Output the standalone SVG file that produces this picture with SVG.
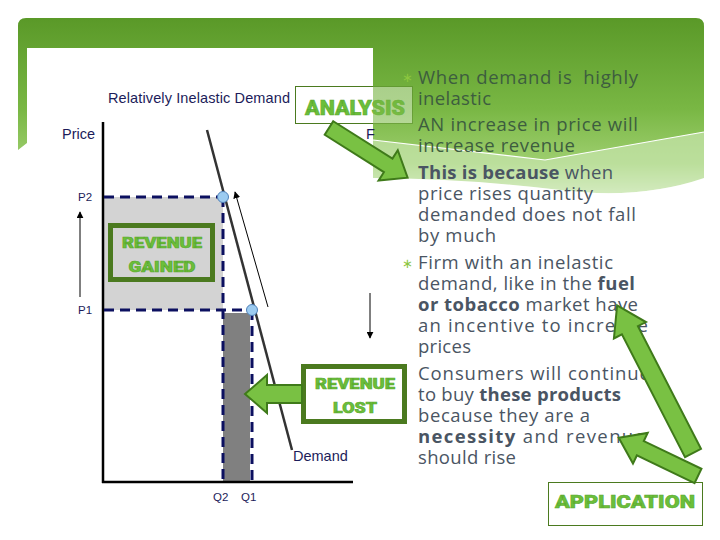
<svg xmlns="http://www.w3.org/2000/svg" width="720" height="540" viewBox="0 0 720 540">
<defs>
<linearGradient id="gr" gradientUnits="userSpaceOnUse" x1="0" y1="18" x2="0" y2="200">
<stop offset="0" stop-color="#5a9928"/>
<stop offset="0.5" stop-color="#79b744"/>
<stop offset="0.8" stop-color="#9fcf70"/>
<stop offset="1" stop-color="#ffffff"/>
</linearGradient>
<marker id="ah" viewBox="0 0 10 10" refX="9" refY="5" markerWidth="7" markerHeight="7" orient="auto" markerUnits="userSpaceOnUse">
<path d="M0,0 L10,5 L0,10 Z" fill="#000"/>
</marker>
<style>
.gt{font-family:Arial,"Liberation Sans",sans-serif;fill:#1c1c5a}
.dash{stroke:#0c1060;stroke-width:3;stroke-dasharray:10 6;fill:none}
.dot{fill:#9ccbf0;stroke:#4f80b8;stroke-width:1}
.box{fill:none;stroke:#4b7a1f;stroke-width:5}
.lbl{font-family:Roboto,"Liberation Sans",Arial,sans-serif;font-weight:900;fill:#6bbf3b;stroke:#5aa82e;stroke-width:0.6;text-anchor:middle}
.tag{fill:#ffffff;stroke:#4b7a1f;stroke-width:1}
.blk{fill:#79c143;stroke:#3f7a1a;stroke-width:2;stroke-linejoin:miter}
.tx{font-family:"Open Sans","Noto Sans",sans-serif;font-size:18.5px;fill:#4a5563}
.tg{fill:#3d5d3f}
.bul{font-family:"DejaVu Sans",sans-serif;font-size:13px;fill:#8cc63f}
</style>
</defs>
<rect width="720" height="540" fill="#ffffff"/>
<g id="background">
<path d="M26,18 H696 Q704,18 704,26 V200 H373 V140 L27,143 L18,150 V26 Q18,18 26,18 Z" fill="url(#gr)"/>
<path d="M373,140 L545,160 L704,132 V178 Q640,200 560,190 Q460,178 373,178 Z" fill="#c8e6ae" opacity="0.7"/>
<path d="M373,178 Q460,178 560,190 Q640,200 704,178 V205 H373 Z" fill="#ffffff"/>
<path d="M373,140 L545,160 L704,132" fill="none" stroke="#ffffff" stroke-width="1.2"/>
<rect x="27" y="48" width="346" height="492" fill="#ffffff"/>
</g>
<g id="graph">
<text class="gt" x="108" y="103" font-size="14.5" textLength="182">Relatively Inelastic Demand</text>
<text class="gt" x="62" y="139" font-size="14.5">Price</text>
<text class="gt" x="366" y="139" font-size="14.5">F</text>
<rect x="103" y="197" width="120" height="113" fill="#d3d3d3"/>
<rect x="223" y="313" width="27" height="169" fill="#808080"/>
<line x1="103" y1="122" x2="103" y2="483" stroke="#000" stroke-width="2.5"/>
<line x1="102" y1="482" x2="353" y2="482" stroke="#000" stroke-width="2.5"/>
<line class="dash" x1="104" y1="197" x2="223" y2="197"/>
<line class="dash" x1="104" y1="310" x2="252" y2="310"/>
<line class="dash" x1="223" y1="197" x2="223" y2="482"/>
<line class="dash" x1="252" y1="310" x2="252" y2="482"/>
<line x1="207" y1="130" x2="292" y2="450" stroke="#333" stroke-width="2.5"/>
<circle class="dot" cx="223" cy="197" r="5.5"/>
<circle class="dot" cx="252" cy="310" r="5.5"/>
<text class="gt" x="78" y="201" font-size="11.5">P2</text>
<text class="gt" x="78" y="314" font-size="11.5">P1</text>
<text class="gt" x="213" y="501" font-size="11.5">Q2</text>
<text class="gt" x="241" y="501" font-size="11.5">Q1</text>
<text class="gt" x="293" y="461" font-size="14.5">Demand</text>
<line x1="80" y1="297" x2="80" y2="212" stroke="#000" stroke-width="1" marker-end="url(#ah)"/>
<line x1="268" y1="307" x2="235" y2="192" stroke="#000" stroke-width="1" marker-end="url(#ah)"/>
<line x1="370" y1="293" x2="370" y2="338" stroke="#000" stroke-width="1" marker-end="url(#ah)"/>
</g>
<g id="text">
<text class="bul" x="402" y="82">∗</text>
<text class="bul" x="402" y="268">∗</text>
<text class="tx tg" x="418" y="84" textLength="220" xml:space="preserve">When demand is  highly</text>
<text class="tx tg" x="418" y="105" textLength="73">inelastic</text>
<text class="tx tg" x="418" y="131" textLength="220">AN increase in price will</text>
<text class="tx tg" x="418" y="152" textLength="157">increase revenue</text>
<text class="tx" x="418" y="179" textLength="195"><tspan font-weight="bold">This is because</tspan> when</text>
<text class="tx" x="418" y="200" textLength="175">price rises quantity</text>
<text class="tx" x="418" y="221" textLength="218">demanded does not fall</text>
<text class="tx" x="418" y="242" textLength="78">by much</text>
<text class="tx" x="418" y="269" textLength="195">Firm with an inelastic</text>
<text class="tx" x="418" y="290" textLength="217">demand, like in the <tspan font-weight="bold">fuel</tspan></text>
<text class="tx" x="418" y="311" textLength="220"><tspan font-weight="bold">or tobacco</tspan> market have</text>
<text class="tx" x="418" y="332" textLength="230">an incentive to increase</text>
<text class="tx" x="418" y="353" textLength="53">prices</text>
<text class="tx" x="418" y="380" textLength="232">Consumers will continue</text>
<text class="tx" x="418" y="401" textLength="203">to buy <tspan font-weight="bold">these products</tspan></text>
<text class="tx" x="418" y="422" textLength="172">because they are a</text>
<text class="tx" x="418" y="443" textLength="227"><tspan font-weight="bold">necessity</tspan> and revenue</text>
<text class="tx" x="418" y="464" textLength="98">should rise</text>
</g>
<g id="revenue-gained">
<rect x="110.5" y="225.5" width="102" height="54" fill="#d3d3d3" class="box"/>
<text class="lbl" x="162" y="248" font-size="15" textLength="80" lengthAdjust="spacingAndGlyphs">REVENUE</text>
<text class="lbl" x="162" y="272" font-size="15" textLength="67" lengthAdjust="spacingAndGlyphs">GAINED</text>
</g>
<g id="revenue-lost">
<rect x="303.5" y="366.5" width="101" height="55" fill="#ffffff" class="box"/>
<text class="lbl" x="355" y="389" font-size="15" textLength="80" lengthAdjust="spacingAndGlyphs">REVENUE</text>
<text class="lbl" x="355" y="413" font-size="15" textLength="44" lengthAdjust="spacingAndGlyphs">LOST</text>
</g>
<g id="analysis">
<rect x="295.5" y="86.5" width="117" height="37" class="tag"/>
<text class="lbl" x="355" y="115" font-size="21" textLength="100" lengthAdjust="spacingAndGlyphs">ANALYSIS</text>
<rect x="373" y="86" width="41" height="39" fill="url(#gr)" opacity="0.6"/>
</g>
<g id="application">
<rect x="548.5" y="482.5" width="154" height="43" class="tag"/>
<text class="lbl" x="625" y="508" font-size="19" textLength="140" lengthAdjust="spacingAndGlyphs">APPLICATION</text>
</g>
<g id="connectors">
<polygon class="blk" points="245,394 267,375 267,385 302,385 302,403 267,403 267,413"/>
<polygon class="blk" transform="translate(329,128) rotate(32.3)" points="0,-8 70,-8 70,-18 93,0 70,18 70,8 0,8"/>
<polygon class="blk" transform="translate(693,453) rotate(-117.2)" points="0,-9 138,-9 138,-18 166,0 138,18 138,9 0,9"/>
<polygon class="blk" transform="translate(698,476) rotate(-154.3)" points="0,-8 64,-8 64,-17 88,0 64,17 64,8 0,8"/>
</g>
</svg>
